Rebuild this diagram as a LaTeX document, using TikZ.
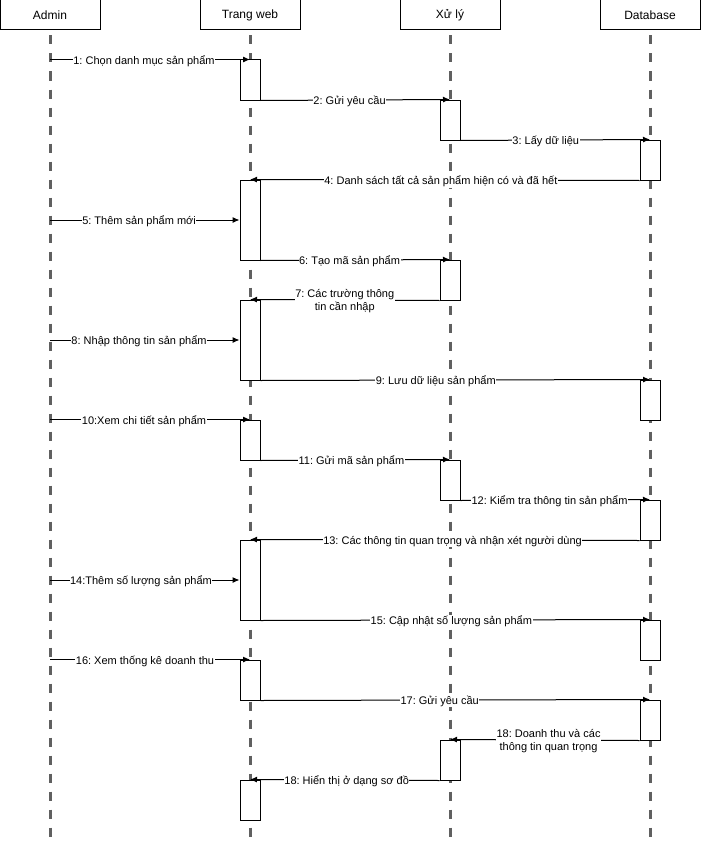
\documentclass[tikz,border=0pt]{standalone}
\usepackage{amsmath}
\usepackage{fontspec}
\setmainfont{Liberation Sans}
\frenchspacing
\usepackage{tikz}
\usetikzlibrary{arrows.meta}
\definecolor{lifegray}{RGB}{96,96,96}
\tikzset{
  head/.style = {draw, line width = 1pt, minimum width = 100pt, minimum height = 30pt, inner sep = 0, font = \fontsize{12}{14}\selectfont},
  lifeline/.style = {draw = lifegray, line width = 3pt, dash pattern = on 9pt off 9pt, dash phase = -5pt},
  act/.style = {draw, fill = white, line width = 1pt, minimum width = 20pt, inner sep = 0},
  msg/.style = {draw, line width = 1pt, -{Latex[length = 7pt, width = 6pt]}},
  lbl/.style = {fill = white, inner sep = 0.5pt, yshift = -1.5pt, font = \fontsize{11}{13}\selectfont, align = center, pos = 0.47}
}

\begin{document}
\begin{tikzpicture}[x = 1pt, y = -1pt]
\useasboundingbox (0, 0) rectangle (701, 843);
\node[head] (admin) at (50, 15) {Admin};
\node[head] (web) at (250, 15) {Trang web};
\node[head] (xuly) at (450, 15) {Xử lý};
\node[head] (db) at (650, 15) {Database};
\foreach \n in {admin, web, xuly, db}
  \draw[lifeline] (\n.south) -- ++(0, 815);

\node[act, minimum height = 40pt] (w1) at (250, 80) {};
\node[act, minimum height = 40pt] (x1) at (450, 120) {};
\node[act, minimum height = 40pt] (d1) at (650, 160) {};
\node[act, minimum height = 80pt] (w2) at (250, 220) {};
\node[act, minimum height = 40pt] (x2) at (450, 280) {};
\node[act, minimum height = 80pt] (w3) at (250, 340) {};
\node[act, minimum height = 40pt] (d2) at (650, 400) {};
\node[act, minimum height = 40pt] (w4) at (250, 440) {};
\node[act, minimum height = 40pt] (x3) at (450, 480) {};
\node[act, minimum height = 40pt] (d3) at (650, 520) {};
\node[act, minimum height = 80pt] (w5) at (250, 580) {};
\node[act, minimum height = 40pt] (d4) at (650, 640) {};
\node[act, minimum height = 40pt] (w6) at (250, 680) {};
\node[act, minimum height = 40pt] (d5) at (650, 720) {};
\node[act, minimum height = 40pt] (x4) at (450, 760) {};
\node[act, minimum height = 40pt] (w7) at (250, 800) {};

\draw[msg] (admin |- w1.north) -- (w1.north) node[lbl] {1: Chọn danh mục sản phẩm};
\draw[msg] (w1.south east) -- (x1.north) node[lbl] {2: Gửi yêu cầu};
\draw[msg] (x1.south east) -- (d1.north) node[lbl, pos = 0.45] {3: Lấy dữ liệu};
\draw[msg] (d1.south west) -- (w2.north) node[lbl, pos = 0.51] {4: Danh sách tất cả sản phẩm hiện có và đã hết};
\draw[msg] (admin |- w2.west) -- (w2.west) node[lbl] {5: Thêm sản phẩm mới};
\draw[msg] (w2.south east) -- (x2.north) node[lbl] {6: Tạo mã sản phẩm};
\draw[msg] (x2.south west) -- (w3.north) node[lbl, pos = 0.5] {7: Các trường thông\\tin cần nhập};
\draw[msg] (admin |- w3.west) -- (w3.west) node[lbl] {8: Nhập thông tin sản phẩm};
\draw[msg] (w3.south east) -- (d2.north) node[lbl, pos = 0.45] {9: Lưu dữ liệu sản phẩm};
\draw[msg] (admin |- w4.north) -- (w4.north) node[lbl] {10:Xem chi tiết sản phẩm};
\draw[msg] (w4.south east) -- (x3.north) node[lbl, pos = 0.48] {11: Gửi mã sản phẩm};
\draw[msg] (x3.south east) -- (d3.north) node[lbl] {12: Kiểm tra thông tin sản phẩm};
\draw[msg] (d3.south west) -- (w5.north) node[lbl, pos = 0.48] {13: Các thông tin quan trọng và nhận xét người dùng};
\draw[msg] (admin |- w5.west) -- (w5.west) node[lbl, pos = 0.48] {14:Thêm số lượng sản phẩm};
\draw[msg] (w5.south east) -- (d4.north) node[lbl, pos = 0.49] {15: Cập nhật số lượng sản phẩm};
\draw[msg] (admin |- w6.north) -- (w6.north) node[lbl, pos = 0.475] {16: Xem thống kê doanh thu};
\draw[msg] (w6.south east) -- (d5.north) node[lbl, pos = 0.46] {17: Gửi yêu cầu};
\draw[msg] (d5.south west) -- (x4.north) node[lbl, pos = 0.48] {18: Doanh thu và các\\thông tin quan trọng};
\draw[msg] (x4.south west) -- (w7.north) node[lbl, pos = 0.49] {18: Hiển thị ở dạng sơ đồ};
\end{tikzpicture}
\end{document}
